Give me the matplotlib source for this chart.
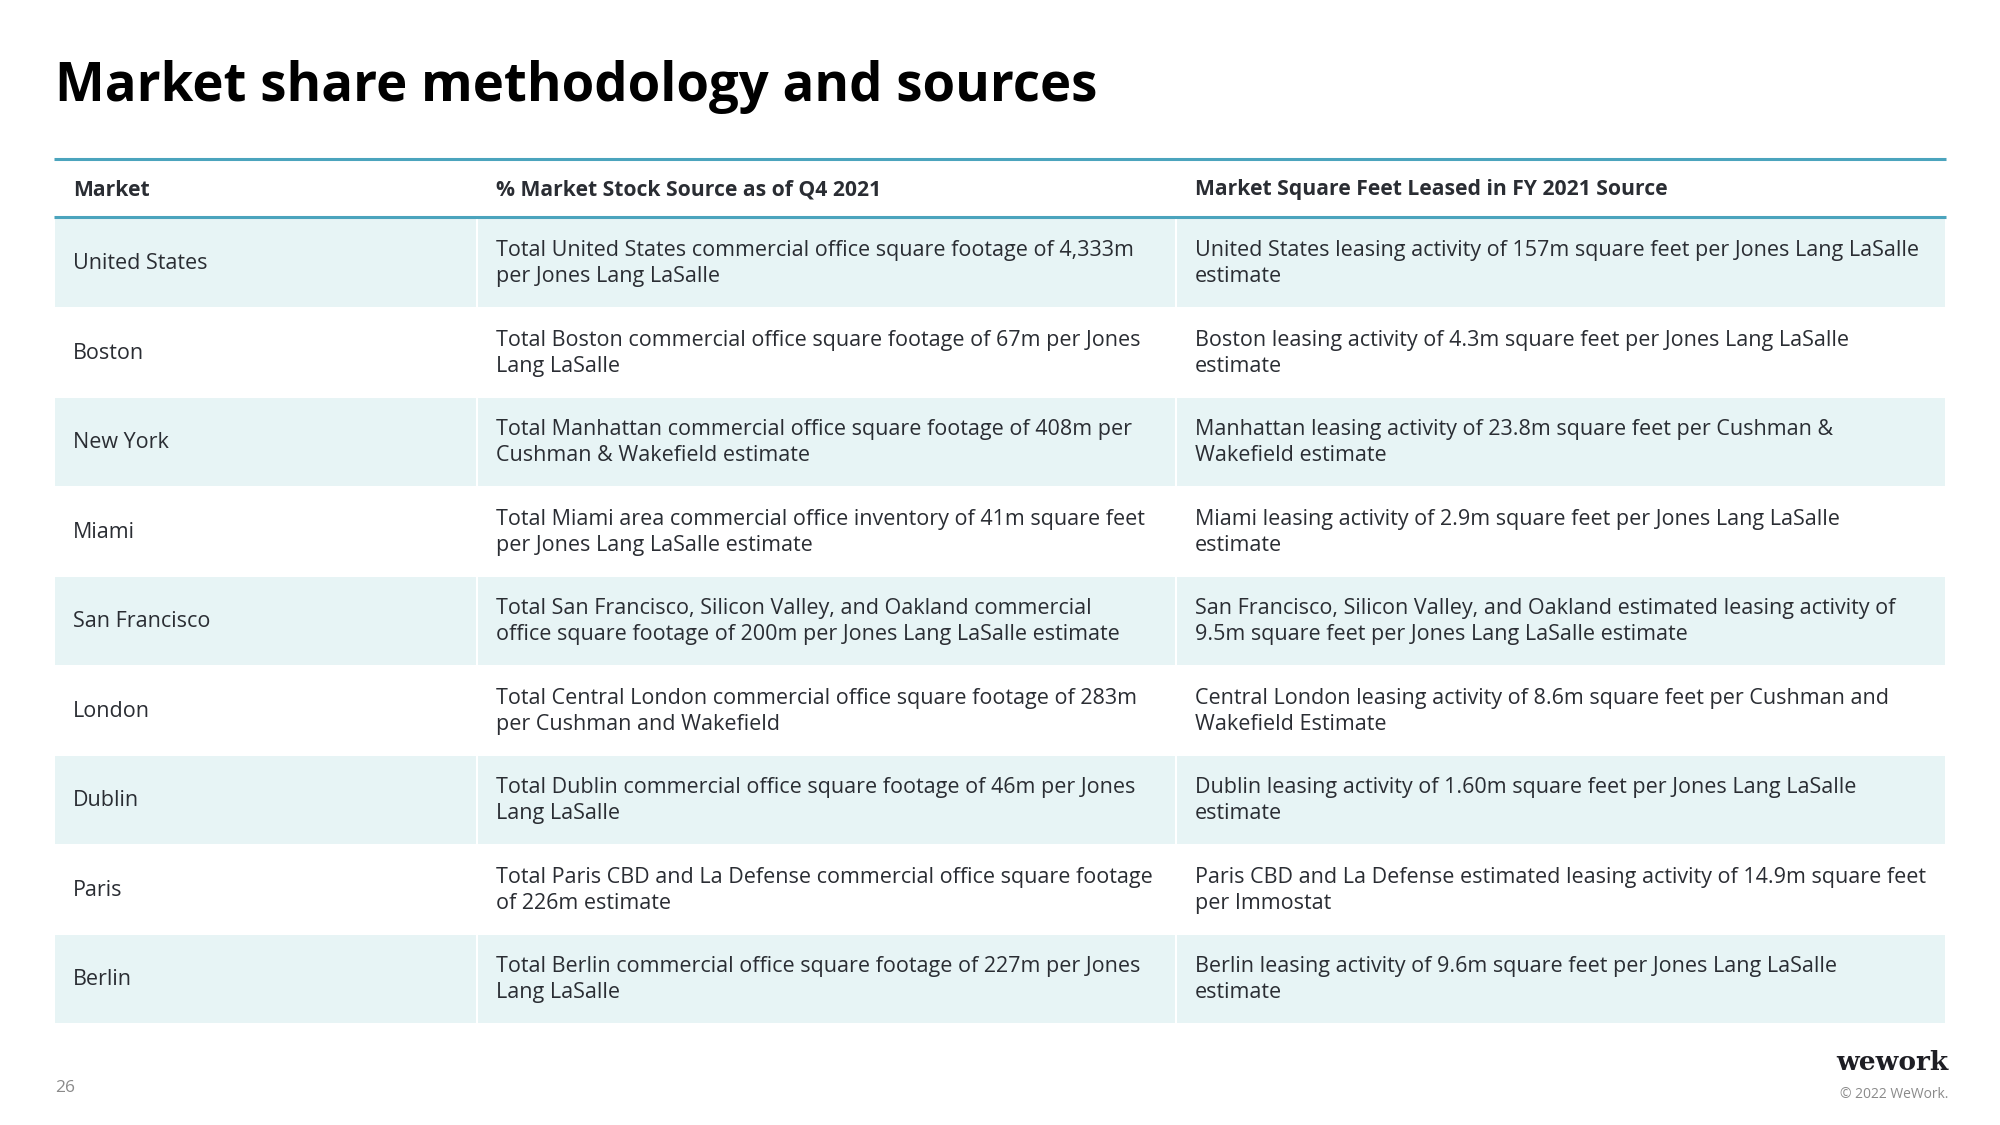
import matplotlib.pyplot as plt
from matplotlib.patches import Rectangle

markets = ['United States', 'Boston', 'New York', 'Miami', 'San Francisco',
           'London', 'Dublin', 'Paris', 'Berlin']

stock_sources = [
    'Total United States commercial office square footage of 4,333m\nper Jones Lang LaSalle',
    'Total Boston commercial office square footage of 67m per Jones\nLang LaSalle',
    'Total Manhattan commercial office square footage of 408m per\nCushman & Wakefield estimate',
    'Total Miami area commercial office inventory of 41m square feet\nper Jones Lang LaSalle estimate',
    'Total San Francisco, Silicon Valley, and Oakland commercial\noffice square footage of 200m per Jones Lang LaSalle estimate',
    'Total Central London commercial office square footage of 283m\nper Cushman and Wakefield',
    'Total Dublin commercial office square footage of 46m per Jones\nLang LaSalle',
    'Total Paris CBD and La Defense commercial office square footage\nof 226m estimate',
    'Total Berlin commercial office square footage of 227m per Jones\nLang LaSalle',
]

leased_sources = [
    'United States leasing activity of 157m square feet per Jones Lang LaSalle\nestimate',
    'Boston leasing activity of 4.3m square feet per Jones Lang LaSalle\nestimate',
    'Manhattan leasing activity of 23.8m square feet per Cushman &\nWakefield estimate',
    'Miami leasing activity of 2.9m square feet per Jones Lang LaSalle\nestimate',
    'San Francisco, Silicon Valley, and Oakland estimated leasing activity of\n9.5m square feet per Jones Lang LaSalle estimate',
    'Central London leasing activity of 8.6m square feet per Cushman and\nWakefield Estimate',
    'Dublin leasing activity of 1.60m square feet per Jones Lang LaSalle\nestimate',
    'Paris CBD and La Defense estimated leasing activity of 14.9m square feet\nper Immostat',
    'Berlin leasing activity of 9.6m square feet per Jones Lang LaSalle\nestimate',
]

headers = ['Market', '% Market Stock Source as of Q4 2021',
           'Market Square Feet Leased in FY 2021 Source']

blue = '#4BA4BD'
shade = '#E7F4F5'
ink = '#2A2D33'
grey = '#8A8A8A'
font = 'Open Sans'


def main():
    fig = plt.figure(figsize=(20, 11.25), dpi=100)
    ax = fig.add_axes([0, 0, 1, 1])
    ax.set_xlim(0, 2000)
    ax.set_ylim(1125, 0)
    ax.axis('off')

    col_edges = [54, 477, 1176, 1946]
    pad = 19
    row_top, row_h = 218, 89.5

    ax.text(55, 101, 'Market share methodology and sources', fontsize=38,
            fontweight='bold', color='black', family=font, va='baseline')

    # header block
    ax.plot([col_edges[0], col_edges[-1]], [159, 159], color=blue, lw=2.2,
            solid_capstyle='butt')
    ax.plot([col_edges[0], col_edges[-1]], [217, 217], color=blue, lw=2.2,
            solid_capstyle='butt')
    for x0, h in zip(col_edges[:-1], headers):
        ax.text(x0 + pad, 190, h, fontsize=15.2, fontweight='bold', color=ink,
                family=font, va='center')

    for i, row in enumerate(zip(markets, stock_sources, leased_sources)):
        y0 = row_top + i * row_h
        if i % 2 == 0:
            for c in range(3):
                ax.add_patch(Rectangle((col_edges[c] + 1, y0 + 1),
                                       col_edges[c + 1] - col_edges[c] - 2,
                                       row_h - 2, facecolor=shade,
                                       edgecolor='none'))
        yc = y0 + row_h / 2 + 1
        for c, txt in enumerate(row):
            ax.text(col_edges[c] + pad, yc, txt, fontsize=15.5, color=ink,
                    family=font, va='center', linespacing=1.3)

    # footer
    ax.text(55, 1088, '26', fontsize=12.5, color=grey, family=font, va='center')
    ax.text(1948, 1062, 'wework', fontsize=19, fontweight='bold',
            color='#1E1E24', family='DejaVu Serif', ha='right', va='center')
    ax.text(1948, 1095, '\u00a9 2022 WeWork.', fontsize=10, color=grey,
            family=font, ha='right', va='center')

    fig.savefig('out.png', dpi=100, facecolor='white')


if __name__ == '__main__':
    main()
